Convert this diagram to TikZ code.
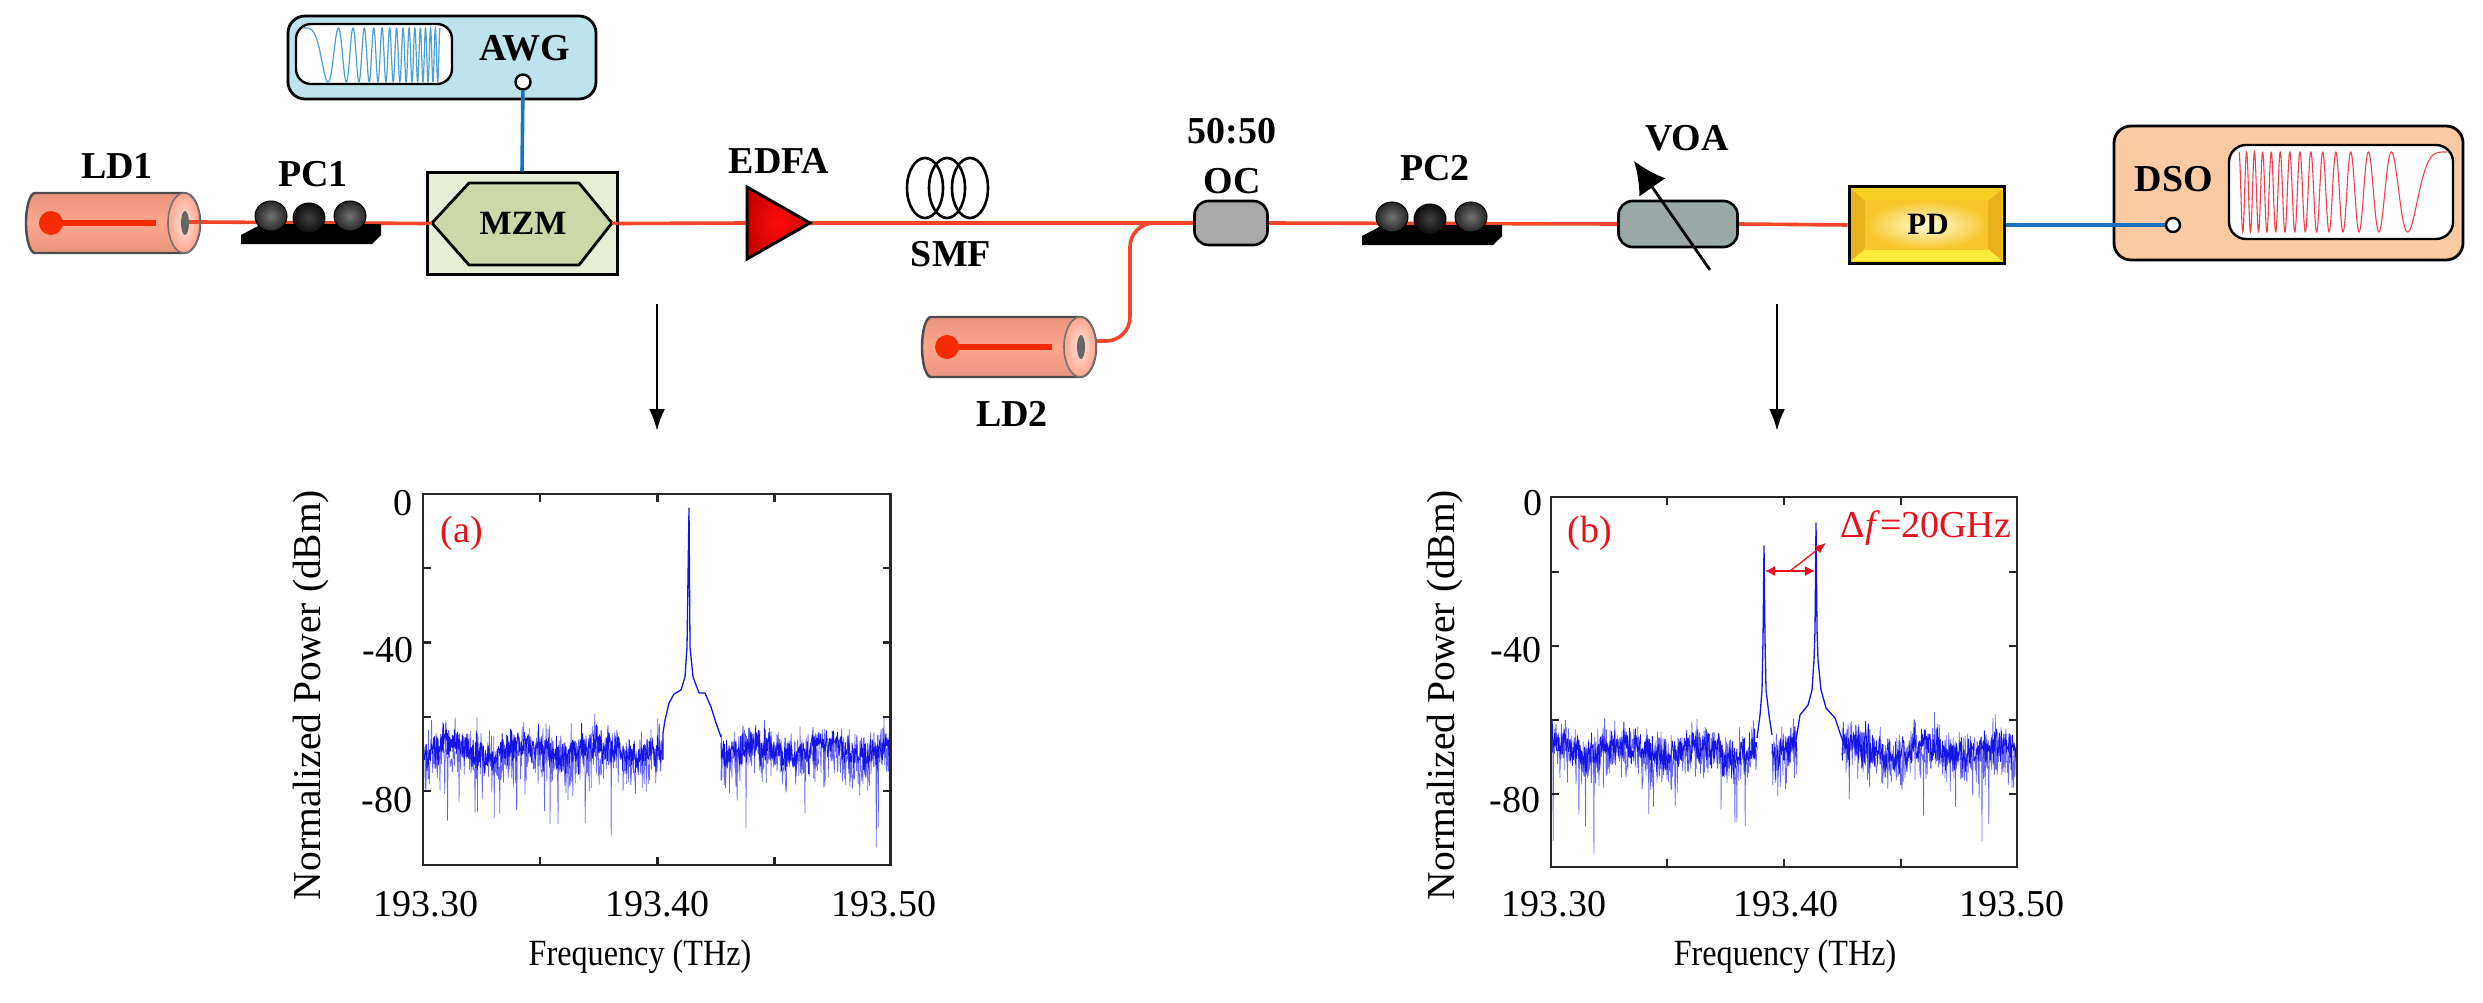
\documentclass[tikz,border=0pt]{standalone}
\usepackage{fontspec}
\setmainfont{Liberation Serif}
\usetikzlibrary{arrows.meta,backgrounds}
\definecolor{fibrered}{HTML}{F2452A}
\definecolor{cablblue}{HTML}{1B72BE}
\definecolor{awgfill}{HTML}{BDE3EC}
\definecolor{awgwave}{HTML}{4A9FD6}
\definecolor{dsofill}{HTML}{FACBA2}
\definecolor{dsowave}{HTML}{F04050}
\definecolor{mzmout}{HTML}{E6EFD6}
\definecolor{mzmin}{HTML}{CBD9A8}
\definecolor{lasermid}{HTML}{FFA68E}
\definecolor{laseredge}{HTML}{E8937E}
\definecolor{laserdot}{HTML}{F42C06}
\definecolor{ocfill}{HTML}{A9A9A9}
\definecolor{voafill}{HTML}{9AA9A8}
\definecolor{specblue}{HTML}{1414E6}
\definecolor{labelred}{HTML}{E8101C}
\definecolor{pdtop}{HTML}{F9CF25}
\definecolor{pdside}{HTML}{E9B21C}
\definecolor{pdbottom}{HTML}{FFEC3C}
\definecolor{pdcentre}{HTML}{F8C52C}
\newcommand{\lab}[1]{\fontsize{#1}{#1}\selectfont}
\newcommand{\noiseband}[4]{%
  \draw[speclight] plot[domain=#1:#2,samples=#4] ({\x},{755+6*sin(5*(\x-#3))+3*sin(31*(\x-#3))+24*(rnd+rnd+rnd+rnd-2)+1650*max(0,rnd-0.955)});
  \draw[spec] plot[domain=#1:#2,samples=#4] ({\x},{750+6*sin(5*(\x-#3))+3*sin(31*(\x-#3))+15*(rnd+rnd+rnd+rnd-2)});
}
\tikzset{
  x=1pt,y=-1pt,
  fibre/.style={draw=fibrered,line width=3.6pt},
  cable/.style={draw=cablblue,line width=3.6pt},
  wlabel/.style={inner sep=0pt,font=\lab{38}\bfseries},
  tlabel/.style={inner sep=0pt,font=\lab{38}},
  axlabel/.style={inner sep=0pt,font=\lab{37}},
  ylabelstyle/.style={inner sep=0pt,font=\lab{39.5},rotate=90},
  rlabel/.style={inner sep=0pt,text=labelred,font=\lab{38}},
  axesline/.style={draw=black!85,line width=2.6pt},
  tickline/.style={draw=black!85,line width=2.2pt},
  speclight/.style={draw=specblue!65,line width=0.7pt,line join=round},
  spec/.style={draw=specblue,line width=0.8pt,line join=round},
  peak/.style={draw=specblue,line width=1.3pt,line join=round},
  downarrow/.style={draw=black,line width=2.8pt,-{Latex[length=22pt,width=16pt]}},
  redmark/.style={draw=labelred,line width=1.3pt},
  laser/.pic={
    \draw[draw=black!70,line width=2.4pt,top color=laseredge,bottom color=laseredge,middle color=lasermid]
      (9,-30) -- (158,-30) arc[start angle=-90,end angle=90,x radius=16,y radius=30]
      -- (9,30) arc[start angle=90,end angle=270,x radius=9,y radius=30] -- cycle;
    \draw[draw=black!55,line width=1.6pt,inner color=white!70!lasermid,outer color=lasermid]
      (158,0) ellipse[x radius=16,y radius=30];
    \fill[black!60] (159,0) ellipse[x radius=4,y radius=12];
    \fill[laserdot] (25,0) circle[radius=12];
    \draw[laserdot,line width=5.5pt] (25,0) -- (130,0);
    \coordinate (-hole) at (163,-1);
    \coordinate (-out) at (174,-1);
  },
  pcbase/.pic={
    \fill[black] (0,20) -- (131,20) -- (140,11) -- (140,0) -- (21,0) -- (0,11) -- cycle;
    \draw[line width=1pt,draw=black,inner color=black!55,outer color=black!85] (30,-8) ellipse[x radius=16,y radius=15];
    \draw[line width=1pt,draw=black,inner color=black!75,outer color=black!95] (68,-6) ellipse[x radius=16,y radius=15];
    \draw[line width=1pt,draw=black,inner color=black!55,outer color=black!85] (109,-8) ellipse[x radius=16,y radius=15];
    \coordinate (-in) at (30,-2);
    \coordinate (-out) at (134,-1);
  }
}
\begin{document}
\begin{tikzpicture}
\useasboundingbox (0,0) rectangle (2483,1003);
% ---------- AWG
\node[draw=black,line width=2.8pt,fill=awgfill,rounded corners=17pt,minimum width=308pt,minimum height=83pt,inner sep=0pt] (awg) at (442,57.5) {};
\node[draw=black,line width=2.4pt,fill=white,rounded corners=15pt,minimum width=156pt,minimum height=60pt,inner sep=0pt] (awgscreen) at (374,54) {};
\draw[awgwave,line width=1.2pt] plot[domain=0:1,samples=700] ({303+137*\x},{55-27*cos(360*15*\x*\x)});
\node[wlabel] (awglab) at (525,48) {AWG};
\node[circle,draw=black,line width=2.4pt,fill=white,minimum size=15pt,inner sep=0pt] (awgport) at (523,82) {};
% ---------- lasers
\pic (ld1) at (26,223) {laser};
\pic (ld2) at (922,347) {laser};
\node[wlabel] (ld1lab) at (117,166) {LD1};
\node[wlabel] (ld2lab) at (1012,414) {LD2};
% ---------- polarisation controllers
\pic (pc1) at (241,224) {pcbase};
\pic (pc2) at (1362,225) {pcbase};
\node[wlabel] (pc1lab) at (313,174) {PC1};
\node[wlabel] (pc2lab) at (1435,168) {PC2};
% ---------- MZM
\node[draw=black,line width=3pt,fill=mzmout,minimum width=190pt,minimum height=101pt,inner sep=0pt] (mzmbox) at (522,223.5) {};
\coordinate (mzmL) at (432,223);
\coordinate (mzmR) at (612,223);
\draw[draw=black,line width=2.8pt,fill=mzmin,line join=round] (mzmL) -- (469,183) -- (579,183) -- (mzmR) -- (579,265) -- (469,265) -- cycle;
\node[wlabel,font=\lab{34}\bfseries] (mzmlab) at (523,223) {MZM};
% ---------- EDFA
\path[draw=black,line width=3pt,line join=miter,inner color=red!95!white,outer color=red!80!black] (747,187) -- (810,223) -- (747,259) -- cycle;
\coordinate (edfaIn) at (747,223);
\coordinate (edfaOut) at (810,223);
\node[wlabel] (edfalab) at (779,161) {EDFA};
% ---------- SMF
\foreach \cx in {925,947,970}{
  \draw[black,line width=2.6pt] (\cx,188) ellipse[x radius=18,y radius=30];
}
\node[wlabel] (smflab) at (951,254) {SMF};
% ---------- coupler
\node[draw=black,line width=2.6pt,fill=ocfill,rounded corners=14pt,minimum width=73pt,minimum height=44pt,inner sep=0pt] (oc) at (1231,223) {};
\node[wlabel] (oclab) at (1232,181) {OC};
\node[wlabel] (ratiolab) at (1232,131) {50:50};
% ---------- VOA
\node[draw=black,line width=2.6pt,fill=voafill,rounded corners=14pt,minimum width=119pt,minimum height=46pt,inner sep=0pt] (voa) at (1678,224) {};
\coordinate (voaS) at (1710,270);
\coordinate (voaT) at (1634,161);
\draw[black,line width=2.8pt,-{Latex[length=32pt,width=32pt]}] (voaS) -- (voaT);
\node[wlabel] (voalab) at (1687,138) {VOA};
% ---------- PD
\node[draw=black,line width=3pt,fill=pdtop,minimum width=155pt,minimum height=76pt,inner sep=0pt] (pd) at (1926.5,225) {};
\fill[pdtop] (1851,189) -- (2002,189) -- (1988,201) -- (1865,201) -- cycle;
\fill[pdside] (1851,189) -- (1865,201) -- (1865,249) -- (1851,261) -- cycle;
\fill[pdside] (2002,189) -- (1988,201) -- (1988,249) -- (2002,261) -- cycle;
\fill[pdbottom] (1851,261) -- (1865,249) -- (1988,249) -- (2002,261) -- cycle;
\shade[inner color=yellow!15!white,outer color=pdcentre] (1865,201) rectangle (1988,249);
\node[wlabel,font=\lab{31}\bfseries] (pdlab) at (1928,224) {PD};
% ---------- DSO
\node[draw=black,line width=2.8pt,fill=dsofill,rounded corners=17pt,minimum width=349pt,minimum height=134pt,inner sep=0pt] (dso) at (2288.5,193) {};
\node[draw=black,line width=2.4pt,fill=white,rounded corners=17pt,minimum width=224pt,minimum height=94pt,inner sep=0pt] (dsoscreen) at (2341,192) {};
\draw[dsowave,line width=1.1pt] plot[domain=0:1,samples=800] ({2447-208*\x},{192-40*cos(360*14*\x*\x)});
\node[wlabel] (dsolab) at (2174,179) {DSO};
\node[circle,draw=black,line width=2.4pt,fill=white,minimum size=14pt,inner sep=0pt] (dsoport) at (2173,225) {};
% ---------- connectors
\begin{scope}[on background layer]
  \draw[fibre] (ld1-out) -- (mzmbox.west);
  \draw[fibre] (mzmbox.east) -- (edfaIn);
  \draw[fibre] (edfaOut) -- (oc.west);
  \draw[fibre] (oc.east) -- (voa.west);
  \draw[fibre] (voa.east) -- (pd.west);
  \coordinate (ldbend) at (1130,223);
  \coordinate (ld2lift) at (1085,341);
  \draw[fibre,rounded corners=24pt] (ld2lift) -| (ldbend) -- (oc.west);
\end{scope}
\draw[fibre] (ld1-hole) -- (ld1-out);
\draw[fibre,line width=3pt] (mzmbox.west) -- (mzmL);
\draw[fibre,line width=3pt] (mzmR) -- (mzmbox.east);
\draw[cable] (awgport) -- (mzmbox.north);
\draw[cable] (pd.east) -- (dsoport);
% ---------- arrows to spectra
\coordinate (armA) at (657,304);
\coordinate (armAt) at (657,431);
\coordinate (armB) at (1777,304);
\coordinate (armBt) at (1777,431);
\draw[downarrow] (armA) -- (armAt);
\draw[downarrow] (armB) -- (armBt);
% ---------- spectrum (a)
\pgfmathsetseed{4711}
\noiseband{424}{663}{400}{600}
\noiseband{721}{890}{700}{420}
\draw[peak] (663,760) -- (663,733) -- (665,720) -- (669,703) -- (674,694) -- (681,690) -- (685,677) -- (687,647) -- (689,508) -- (690,647) -- (693,677) -- (699,693) -- (705,693) -- (711,707) -- (716,723) -- (721,737);
\draw[axesline] (423,494) rectangle (890.5,865);
\foreach \tx in {540,657.5,774.5}{
  \draw[tickline] (\tx,494) -- (\tx,502);
  \draw[tickline] (\tx,865) -- (\tx,857);
}
\foreach \ty in {568,642.5,717,791}{
  \draw[tickline] (423,\ty) -- (431,\ty);
  \draw[tickline] (890.5,\ty) -- (882.5,\ty);
}
\node[tlabel] (ay0) at (403,503) {0};
\node[tlabel] (ay1) at (388,650) {-40};
\node[tlabel] (ay2) at (387,800) {-80};
\node[tlabel] (ax0) at (426,904) {193.30};
\node[tlabel] (ax1) at (657.5,904) {193.40};
\node[tlabel] (ax2) at (884,904) {193.50};
\node[axlabel] (axl) at (640,957) {\scalebox{0.87}[1]{Frequency (THz)}};
\node[ylabelstyle] (ayl) at (311,695) {Normalized Power (dBm)};
\node[rlabel] (alab) at (462,533) {(a)};
% ---------- spectrum (b)
\noiseband{1552}{1757}{1500}{520}
\noiseband{1772}{1797}{1750}{70}
\noiseband{1842}{2016}{1800}{430}
\draw[peak] (1757,738) -- (1760,715) -- (1762,690) -- (1763,640) -- (1764,546) -- (1765,640) -- (1766,690) -- (1769,715) -- (1772,735);
\draw[peak] (1796,740) -- (1800,715) -- (1808,705) -- (1812,690) -- (1814,660) -- (1815,630) -- (1816,523) -- (1817,630) -- (1818,660) -- (1821,690) -- (1826,708) -- (1835,718) -- (1843,742);
\draw[axesline] (1551,497) rectangle (2017,867);
\foreach \tx in {1667,1784,1901}{
  \draw[tickline] (\tx,497) -- (\tx,505);
  \draw[tickline] (\tx,867) -- (\tx,859);
}
\foreach \ty in {572,646,720,794}{
  \draw[tickline] (1551,\ty) -- (1559,\ty);
  \draw[tickline] (2017,\ty) -- (2009,\ty);
}
\node[tlabel] (by0) at (1533,503) {0};
\node[tlabel] (by1) at (1516,650) {-40};
\node[tlabel] (by2) at (1515,800) {-80};
\node[tlabel] (bx0) at (1554,904) {193.30};
\node[tlabel] (bx1) at (1786,904) {193.40};
\node[tlabel] (bx2) at (2012,904) {193.50};
\node[axlabel] (bxl) at (1785,957) {\scalebox{0.87}[1]{Frequency (THz)}};
\node[ylabelstyle] (byl) at (1445,695) {Normalized Power (dBm)};
\node[rlabel] (blab) at (1590,533) {(b)};
\node[rlabel] (dflab) at (1926,528) {Δ\textit{f}=20GHz};
\coordinate (dfL) at (1765,571);
\coordinate (dfR) at (1815,571);
\coordinate (dfM) at (1790,571);
\coordinate (dfT) at (1826,543);
\draw[redmark,{Latex[length=10pt,width=10pt]}-{Latex[length=10pt,width=10pt]}] (dfL) -- (dfR);
\draw[redmark,-{Latex[length=11pt,width=9pt]}] (dfM) -- (dfT);
\end{tikzpicture}
\end{document}
